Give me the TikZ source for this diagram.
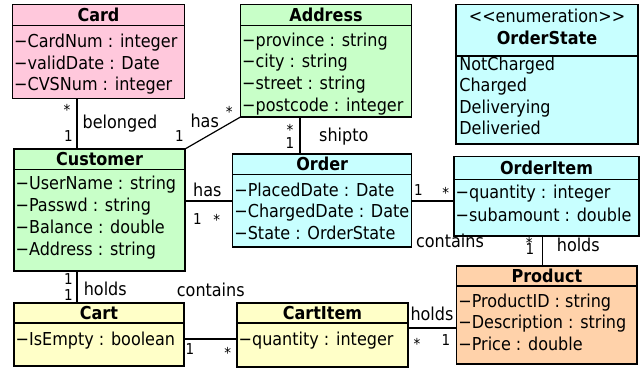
\documentclass[tikz,border=0pt]{standalone}
\usepackage{fontspec}
\setmainfont{DejaVu Sans Condensed}
\definecolor{cpink}{RGB}{255,200,220}
\definecolor{cgreen}{RGB}{200,255,200}
\definecolor{ccyan}{RGB}{200,255,255}
\definecolor{cyellow}{RGB}{255,255,200}
\definecolor{corange}{RGB}{255,210,170}
\tikzset{
  classbox/.style={draw=black, line width=1.2pt, inner sep=0pt, outer sep=0pt, rectangle},
  classline/.style={draw=black, line width=1.2pt},
  titletext/.style={inner sep=0pt, anchor=base, font=\fontsize{17.8}{21}\selectfont\bfseries},
  stereotext/.style={inner sep=0pt, anchor=base, font=\fontsize{17.8}{21}\selectfont},
  attrtext/.style={inner sep=0pt, anchor=base west, font=\fontsize{17.8}{21}\selectfont},
  lbl/.style={inner sep=0pt, anchor=base, font=\fontsize{17.8}{21}\selectfont},
  mult/.style={inner sep=0pt, anchor=base, font=\fontsize{15}{18}\selectfont},
  assoc/.style={draw=black, line width=1.2pt},
}
\newcommand\umlclass[8]{%
  \node[classbox, fill=#7, minimum width={#4-#2}, minimum height={#5-#3}, anchor=north west] (#1) at (#2,#3) {};
  \draw[classline] (#2,#6) -- (#4,#6);
  \node[titletext] (#1-title) at ({(#2+#4)/2},{(#3+#6)/2+6.5}) {#8};
}
\newcommand\umlattrs[5]{%
  \foreach \t [count=\i from 0] in {#5} {\node[attrtext] (#1-\i) at (#2,{#3+#4*\i}) {\t};}
}
\begin{document}
\begin{tikzpicture}[x=1pt,y=-1pt]
\useasboundingbox (0,0) rectangle (644,369);
% classes
\umlclass{card}{12.5}{4.5}{184.5}{98.5}{25.5}{cpink}{Card}
\umlattrs{card}{14}{48}{21}{−CardNum : integer,−validDate : Date,−CVSNum : integer}
\umlclass{address}{240.5}{4.5}{411.5}{117}{25.5}{cgreen}{Address}
\umlattrs{address}{242}{46.3}{21.6}{−province : string,−city : string,−street : string,−postcode : integer}
\umlclass{orderstate}{456}{4.5}{638}{144}{56}{ccyan}{}
\node[stereotext] (os-stereo) at (547,23) {{<}{<}enumeration{>}{>}};
\node[titletext] (os-name) at (547,45) {OrderState};
\umlattrs{orderstate}{459.2}{70.3}{21.4}{NotCharged,Charged,Deliverying,Deliveried}
\umlclass{customer}{14}{149}{185}{271}{169.3}{cgreen}{Customer}
\umlattrs{customer}{15.5}{189.3}{21.9}{−UserName : string,−Passwd : string,−Balance : double,−Address : string}
\umlclass{order}{232.7}{154}{411.7}{247}{174.3}{ccyan}{Order}
\umlattrs{order}{234.2}{196}{21.7}{−PlacedDate : Date,−ChargedDate : Date,−State : OrderState}
\umlclass{orderitem}{454}{156.5}{639}{236}{179.5}{ccyan}{OrderItem}
\umlattrs{orderitem}{455.5}{198.7}{22.3}{−quantity : integer,−subamount : double}
\umlclass{product}{456.7}{266}{637}{364}{286}{corange}{Product}
\umlattrs{product}{458.2}{307.7}{21.2}{−ProductID : string,−Description : string,−Price : double}
\umlclass{cart}{14}{303}{184}{366}{323}{cyellow}{Cart}
\umlattrs{cart}{15.5}{345}{21}{−IsEmpty : boolean}
\umlclass{cartitem}{237}{303}{408}{367}{323}{cyellow}{CartItem}
\umlattrs{cartitem}{238.5}{345}{21}{−quantity : integer}
% connector helpers
\coordinate (xcc) at (77,0);
\coordinate (xao) at (300,0);
\coordinate (xop) at (542.7,0);
\coordinate (yco) at (0,201);
\coordinate (ycc) at (0,339);
\coordinate (ycp) at (0,328);
% connectors
\draw[assoc] (card.south -| xcc) -- (customer.north -| xcc);
\draw[assoc] (customer.north east) -- (address.south west);
\draw[assoc] (address.south -| xao) -- (order.north -| xao);
\draw[assoc] (customer.east |- yco) -- (order.west |- yco);
\draw[assoc] (order.east |- yco) -- (orderitem.west |- yco);
\draw[assoc] (orderitem.south -| xop) -- (product.north -| xop);
\draw[assoc] (customer.south -| xcc) -- (cart.north -| xcc);
\draw[assoc] (cart.east |- ycc) -- (cartitem.west |- ycc);
\draw[assoc] (cartitem.east |- ycp) -- (product.west |- ycp);
% labels
\node[mult] (l1) at (67,115) {*};
\node[mult] (l2) at (68.3,141.7) {1};
\node[lbl] (l3) at (120,128.3) {belonged};
\node[lbl] (l4) at (204.7,127) {has};
\node[mult] (l5) at (229.3,117.3) {*};
\node[mult] (l6) at (179.3,141.7) {1};
\node[mult] (l7) at (290,135.7) {*};
\node[mult] (l8) at (290,148.3) {1};
\node[lbl] (l9) at (343.8,141.7) {shipto};
\node[lbl] (l10) at (207.3,196) {has};
\node[mult] (l11) at (197.3,224) {1};
\node[mult] (l12) at (216.7,225.7) {*};
\node[mult] (l13) at (418.3,195) {1};
\node[mult] (l14) at (445.7,198.3) {*};
\node[lbl] (l15) at (450,247.3) {contains};
\node[mult] (l16) at (529.3,248.5) {*};
\node[mult] (l17) at (530,254.5) {1};
\node[lbl] (l18) at (578.3,251.7) {holds};
\node[mult] (l19) at (68.3,284) {1};
\node[mult] (l20) at (68.3,300) {1};
\node[lbl] (l21) at (105.3,295) {holds};
\node[lbl] (l22) at (210.8,296) {contains};
\node[mult] (l23) at (190,354) {1};
\node[mult] (l24) at (227.7,358.3) {*};
\node[lbl] (l25) at (432,320) {holds};
\node[mult] (l26) at (417,349) {*};
\node[mult] (l27) at (446,345) {1};
\end{tikzpicture}
\end{document}
